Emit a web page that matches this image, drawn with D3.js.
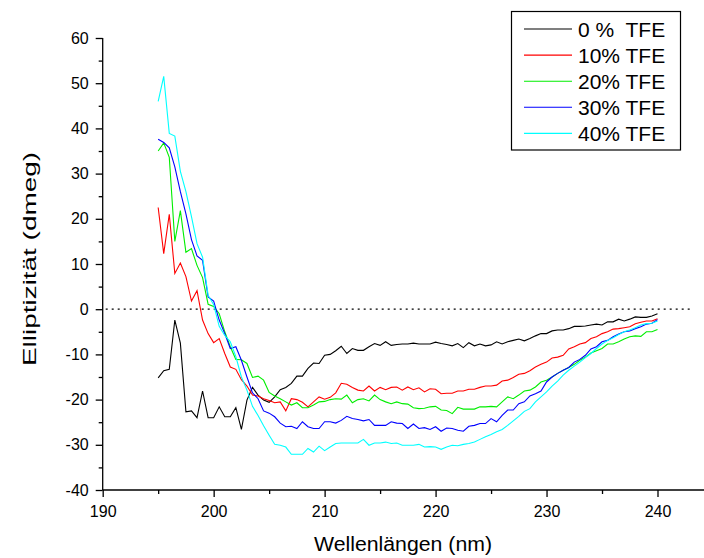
<!DOCTYPE html>
<html>
<head>
<meta charset="utf-8">
<script src="https://cdn.jsdelivr.net/npm/d3@7"></script>
<style>
  body { margin: 0; background: #fff; }
  svg { display: block; font-family: "Liberation Sans", Arial, sans-serif; }
</style>
</head>
<body>
<svg id="chart" width="704" height="558"></svg>
<script>
//Wavelength grid (nm), 0.5 nm steps from 195 to 240
const START_NM = 195;
const STEP_NM = 0.5;

//Series labels & colours
const seriesNames = ["0 %  TFE", "10% TFE", "20% TFE", "30% TFE", "40% TFE"];
const seriesColors = ["#000000", "#ff0000", "#00ee00", "#0000ff", "#00ffff"];

//Ellipticity (dmeg)
const tfe0 = [-15.2,-13.6,-13.3,-2.4,-7.5,-22.7,-22.5,-24.0,-18.1,-24.0,-24.0,-21.6,-23.8,-23.8,-21.8,-26.6,-20.1,-17.3,-19.0,-20.1,
  -20.6,-19.4,-17.8,-17.3,-16.4,-14.8,-14.8,-13.1,-11.9,-12.0,-10.2,-10.0,-9.2,-8.2,-9.8,-8.7,-9.1,-9.1,-8.3,-7.6,
  -8.0,-7.2,-8.0,-7.8,-7.7,-7.7,-7.5,-7.7,-7.7,-7.7,-7.3,-7.6,-7.8,-8.1,-7.6,-8.5,-7.4,-8.1,-7.7,-8.1,
  -7.9,-7.2,-7.7,-7.2,-6.9,-6.6,-7.0,-6.5,-5.9,-5.4,-5.4,-4.8,-4.6,-4.6,-4.3,-3.8,-3.8,-3.7,-3.5,-3.3,
  -3.5,-2.8,-2.8,-2.2,-2.6,-2.2,-1.7,-1.8,-1.8,-1.5,-1.0];
const tfe10 = [22.5,12.3,21.0,7.9,10.2,7.2,1.8,4.1,-2.4,-5.4,-7.4,-6.5,-9.8,-12.8,-13.3,-15.6,-17.0,-19.0,-19.2,-19.8,
  -20.2,-20.7,-20.5,-22.5,-19.8,-20.0,-20.6,-21.6,-20.5,-19.4,-19.9,-19.5,-18.5,-16.4,-16.6,-17.3,-17.9,-18.1,-17.0,-18.1,
  -17.3,-17.8,-17.3,-17.2,-17.9,-17.2,-17.8,-17.4,-18.3,-17.6,-17.7,-18.7,-18.6,-18.6,-18.1,-18.1,-17.7,-17.7,-17.3,-17.0,
  -17.0,-16.8,-15.9,-15.7,-15.1,-14.4,-14.2,-13.6,-12.8,-12.2,-11.7,-10.8,-10.6,-10.2,-8.8,-8.3,-7.7,-7.4,-6.5,-6.1,
  -5.4,-5.0,-4.4,-4.3,-4.1,-3.9,-3.2,-2.9,-2.6,-2.6,-2.1];
const tfe20 = [35.0,36.8,33.6,15.0,21.8,12.6,13.4,9.7,7.0,1.1,0.6,-1.0,-5.0,-8.3,-11.1,-11.2,-12.0,-15.1,-14.8,-15.7,
  -18.4,-19.2,-19.8,-20.5,-21.2,-20.7,-21.8,-21.8,-21.2,-20.5,-20.4,-20.0,-19.8,-19.9,-19.0,-20.7,-20.0,-19.8,-20.3,-19.0,
  -20.0,-20.5,-20.9,-20.5,-20.9,-21.0,-21.8,-22.0,-21.9,-21.6,-21.5,-22.3,-22.4,-23.1,-21.7,-22.1,-22.1,-22.1,-21.6,-21.6,
  -21.5,-21.6,-20.5,-19.4,-19.8,-19.0,-18.1,-17.9,-17.2,-16.1,-15.7,-15.0,-14.2,-13.5,-12.9,-12.2,-11.3,-10.6,-9.7,-9.2,
  -8.7,-7.7,-7.7,-7.2,-6.6,-6.1,-5.9,-6.0,-5.0,-5.0,-4.5];
const tfe30 = [37.6,36.9,35.7,31.5,26.0,21.1,15.4,11.8,10.8,2.7,1.8,-2.4,-5.4,-8.7,-8.3,-11.3,-15.0,-18.5,-19.8,-22.5,
  -23.0,-23.8,-25.2,-26.0,-25.9,-26.4,-24.9,-26.0,-26.4,-26.4,-24.9,-24.9,-25.2,-24.6,-23.7,-24.2,-24.4,-24.7,-24.4,-25.7,
  -25.7,-25.7,-24.9,-25.2,-25.3,-26.4,-25.4,-26.4,-26.2,-26.6,-26.0,-27.0,-26.3,-26.4,-26.8,-27.0,-25.9,-25.7,-25.3,-25.3,
  -24.2,-24.9,-23.5,-22.3,-22.3,-20.9,-20.5,-19.2,-18.7,-18.1,-16.1,-15.0,-14.2,-13.5,-12.9,-11.7,-11.1,-10.2,-8.8,-8.3,
  -7.2,-6.9,-6.1,-5.5,-5.0,-4.8,-4.3,-3.9,-3.3,-3.1,-2.3];
const tfe40 = [46.0,51.5,38.9,38.3,30.5,26.0,20.5,14.5,11.5,3.1,1.0,-3.8,-5.8,-7.2,-10.5,-15.0,-17.9,-21.5,-23.5,-25.8,
  -27.9,-29.9,-30.1,-30.5,-32.1,-32.1,-32.1,-30.8,-31.6,-30.3,-31.3,-30.5,-29.7,-29.6,-29.6,-29.6,-29.6,-28.8,-30.1,-29.6,
  -29.6,-29.4,-29.7,-29.6,-30.1,-30.1,-30.1,-29.9,-30.5,-30.4,-30.5,-31.0,-30.5,-30.1,-30.2,-29.9,-29.7,-29.4,-28.8,-28.2,
  -27.7,-27.1,-26.6,-25.7,-24.7,-23.7,-22.6,-22.0,-20.5,-19.4,-18.3,-17.0,-15.9,-14.6,-13.5,-12.6,-11.7,-10.7,-9.8,-8.7,
  -7.7,-6.9,-6.3,-5.6,-5.0,-4.6,-4.1,-3.5,-3.2,-3.1,-2.6];

//Tick values
const xMajor = [190, 200, 210, 220, 230, 240];
const xMinor = [195, 205, 215, 225, 235];
const yMajor = [-40, -30, -20, -10, 0, 10, 20, 30, 40, 50, 60];
const yMinor = [-35, -25, -15, -5, 5, 15, 25, 35, 45, 55];

//////////////////////////////////////////////////

const svg = d3.select("#chart");
const width = 704;

//Scales: 190 nm at 102.7px, 240 nm at 657.5px; 60 at 38px, -40 at 490px
const x = d3.scaleLinear().domain([190, 240]).range([102.7, 657.5]);
const y = d3.scaleLinear().domain([-40, 60]).range([490, 38]);

const allSeries = [tfe0, tfe10, tfe20, tfe30, tfe40];

//Plain hyphen for negatives, like the original
const plainFormat = d => String(d);

//Zero line (dotted)
svg.append("line")
   .attr("x1", x(190) + 3).attr("x2", x(243))
   .attr("y1", y(0)).attr("y2", y(0))
   .attr("stroke", "#000").attr("stroke-width", 1.3)
   .attr("stroke-dasharray", "2,4");

//Series lines
const line = d3.line()
  .x((d, i) => x(START_NM + i * STEP_NM))
  .y(d => y(d));

svg.append("g").selectAll("path")
   .data(allSeries)
   .join("path")
   .attr("d", d => line(d))
   .attr("fill", "none")
   .attr("stroke", (d, i) => seriesColors[i])
   .attr("stroke-width", 1.1);

//X axis
const xAxisG = svg.append("g").attr("transform", "translate(0," + y(-40) + ")");
xAxisG.call(d3.axisBottom(x).tickValues(xMajor).tickSize(7).tickPadding(9).tickFormat(plainFormat));
xAxisG.append("g").call(d3.axisBottom(x).tickValues(xMinor).tickSize(4).tickFormat(""));
xAxisG.selectAll(".domain").remove();
xAxisG.append("line").attr("x1", x(190)).attr("x2", width).attr("stroke", "#000").attr("stroke-width", 1.3);

//Y axis
const yAxisG = svg.append("g").attr("transform", "translate(" + x(190) + ",0)");
yAxisG.call(d3.axisLeft(y).tickValues(yMajor).tickSize(7).tickPadding(7).tickFormat(plainFormat));
yAxisG.append("g").call(d3.axisLeft(y).tickValues(yMinor).tickSize(4).tickFormat(""));
yAxisG.selectAll(".domain").remove();
yAxisG.append("line").attr("y1", y(60)).attr("y2", y(-40)).attr("stroke", "#000").attr("stroke-width", 1.3);

svg.selectAll(".tick line").attr("stroke", "#000").attr("stroke-width", 1.3);
svg.selectAll(".tick text")
   .attr("fill", "#000")
   .style("font-size", "16px")
   .style("font-family", "'Liberation Sans', Arial, sans-serif");

//Axis titles
svg.append("text")
   .attr("x", 403).attr("y", 551)
   .attr("text-anchor", "middle")
   .attr("textLength", 178).attr("lengthAdjust", "spacingAndGlyphs")
   .style("font-size", "20px")
   .text("Wellenlängen (nm)");

svg.append("text")
   .attr("transform", "translate(36,259) rotate(-90)")
   .attr("text-anchor", "middle")
   .attr("textLength", 214).attr("lengthAdjust", "spacingAndGlyphs")
   .style("font-size", "19px")
   .text("Elliptizität (dmeg)");

//Legend
const legend = svg.append("g");
legend.append("rect")
      .attr("x", 511.5).attr("y", 11.5)
      .attr("width", 169).attr("height", 138.5)
      .attr("fill", "#fff").attr("stroke", "#000").attr("stroke-width", 1.2);

const rows = legend.selectAll("g.row")
  .data(seriesNames)
  .join("g")
  .attr("class", "row")
  .attr("transform", (d, i) => "translate(0," + (29 + i * 26.1) + ")");

rows.append("line")
    .attr("x1", 524).attr("x2", 572)
    .attr("stroke", (d, i) => seriesColors[i])
    .attr("stroke-width", 1.1);

rows.append("text")
    .attr("x", 578).attr("y", 7.5)
    .style("font-size", "21px")
    .style("white-space", "pre")
    .attr("xml:space", "preserve")
    .text(d => d);
</script>
</body>
</html>
